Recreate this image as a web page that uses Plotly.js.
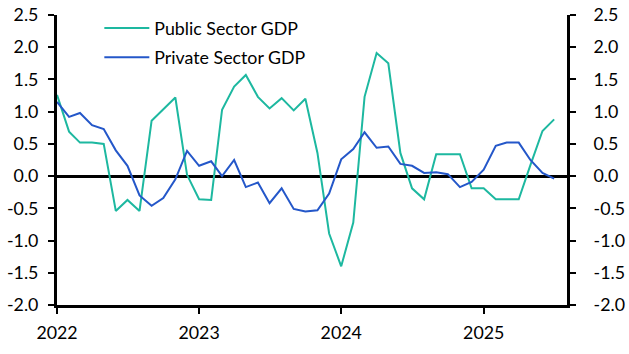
<!DOCTYPE html>
<html>
<head>
<meta charset="utf-8">
<script src="https://cdn.plot.ly/plotly-3.0.1.min.js"></script>
<style>html,body{margin:0;padding:0;background:#fff;}#chart{width:629px;height:354px;}</style>
</head>
<body>
<div id="chart"></div>
<script>
// Monthly dates Jan 2022 - Jul 2025
const months = [
  '2022-01-01','2022-02-01','2022-03-01','2022-04-01','2022-05-01','2022-06-01',
  '2022-07-01','2022-08-01','2022-09-01','2022-10-01','2022-11-01','2022-12-01',
  '2023-01-01','2023-02-01','2023-03-01','2023-04-01','2023-05-01','2023-06-01',
  '2023-07-01','2023-08-01','2023-09-01','2023-10-01','2023-11-01','2023-12-01',
  '2024-01-01','2024-02-01','2024-03-01','2024-04-01','2024-05-01','2024-06-01',
  '2024-07-01','2024-08-01','2024-09-01','2024-10-01','2024-11-01','2024-12-01',
  '2025-01-01','2025-02-01','2025-03-01','2025-04-01','2025-05-01','2025-06-01',
  '2025-07-01'
];
const publicGDP = [
  1.26, 0.69, 0.52, 0.52, 0.50, -0.54, -0.37, -0.54, 0.86, 1.03, 1.22, 0.02,
  -0.36, -0.37, 1.03, 1.39, 1.57, 1.23, 1.05, 1.21, 1.02, 1.20, 0.36, -0.89,
  -1.40, -0.72, 1.23, 1.91, 1.75, 0.36, -0.19, -0.36, 0.34, 0.34, 0.34, -0.19,
  -0.19, -0.36, -0.36, -0.36, 0.17, 0.70, 0.88
];
const privateGDP = [
  1.15, 0.92, 0.98, 0.79, 0.73, 0.40, 0.16, -0.30, -0.46, -0.34, -0.05, 0.39,
  0.16, 0.23, 0.00, 0.25, -0.17, -0.10, -0.42, -0.19, -0.51, -0.55, -0.53, -0.27,
  0.26, 0.42, 0.68, 0.44, 0.46, 0.19, 0.16, 0.05, 0.06, 0.03, -0.17, -0.09,
  0.10, 0.47, 0.52, 0.52, 0.25, 0.05, -0.04
];
const seriesNames = ['Public Sector GDP', 'Private Sector GDP'];
const yTicks = [-2.0, -1.5, -1.0, -0.5, 0.0, 0.5, 1.0, 1.5, 2.0, 2.5];
const yTickText = ['-2.0', '-1.5', '-1.0', '-0.5', '0.0', '0.5', '1.0', '1.5', '2.0', '2.5'];
// right-side labels padded so all labels share a common left edge
const yTickTextRight = yTickText.map(t => t.startsWith('-') ? t : t + '<span style="color:rgba(0,0,0,0)">-</span>');
const xTickVals = ['2022-01-01','2023-01-01','2024-01-01','2025-01-01'];
const xTickText = ['2022','2023','2024','2025'];

const FONT = 'Lato, "Open Sans", sans-serif';
const FS = 17.8;
const W = 629, H = 354, MB = 49, PLOT_TOP = 15;
const paperH = H - MB;
const yDomain = [0, (paperH - PLOT_TOP) / paperH];

const traces = [
  {x: months, y: publicGDP, name: seriesNames[0], type: 'scatter', mode: 'lines',
   line: {color: '#1db8a0', width: 2}, legendgroup: 'a'},
  {x: months, y: privateGDP, name: seriesNames[1], type: 'scatter', mode: 'lines',
   line: {color: '#2457c9', width: 2}, legendgroup: 'b'},
  {x: months, y: privateGDP, yaxis: 'y2', type: 'scatter', mode: 'lines',
   line: {color: 'rgba(0,0,0,0)', width: 0}, showlegend: false, hoverinfo: 'skip'}
];
const yax = {
  range: [-2.0, 2.5], tickvals: yTicks, ticktext: yTickText, domain: yDomain,
  showgrid: false, zeroline: true, zerolinecolor: '#000', zerolinewidth: 3,
  showline: true, linecolor: '#000', linewidth: 3,
  ticks: 'outside', ticklen: 6, tickwidth: 2, tickcolor: '#000',
  ticklabelstandoff: 6,
  tickfont: {family: FONT, size: FS, color: '#000'}
};
const layout = {
  width: W, height: H,
  margin: {l: 57, r: 62, t: 0, b: MB},
  paper_bgcolor: '#fff', plot_bgcolor: '#fff',
  showlegend: true,
  legend: {x: 0.083, y: 1 - 10 / paperH, xanchor: 'left', yanchor: 'top',
    font: {family: FONT, size: FS, color: '#000'}, bgcolor: 'rgba(0,0,0,0)',
    tracegroupgap: 3, itemwidth: 45},
  xaxis: {
    type: 'date', range: ['2022-01-01', '2025-08-03'],
    tickvals: xTickVals, ticktext: xTickText,
    showgrid: false, zeroline: false,
    showline: true, linecolor: '#000', linewidth: 3,
    ticks: 'outside', ticklen: 6, tickwidth: 2, tickcolor: '#000',
    ticklabelstandoff: 4,
    tickfont: {family: FONT, size: FS, color: '#000'}
  },
  yaxis: Object.assign({}, yax),
  yaxis2: Object.assign({}, yax, {overlaying: 'y', side: 'right', zeroline: false,
    ticktext: yTickTextRight, ticklabelstandoff: 14}),
};
Plotly.newPlot('chart', traces, layout, {staticPlot: true});
</script>
</body>
</html>
